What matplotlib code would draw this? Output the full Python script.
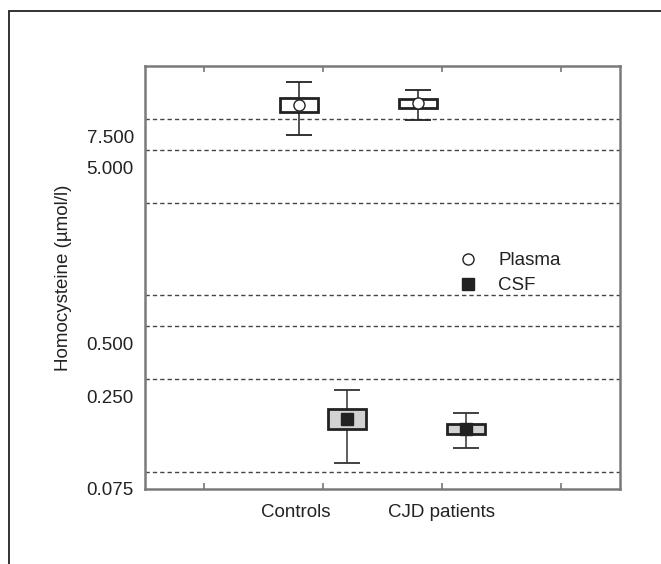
import matplotlib
matplotlib.use("Agg")
import matplotlib.pyplot as plt
import matplotlib.transforms as mtransforms
from matplotlib.patches import Rectangle

plt.rcParams['font.family'] = ['Liberation Sans', 'DejaVu Sans']

# ---- data ----
categories = ['Controls', 'CJD patients']
category_label_x = [1.27, 2.5]
group_x = [1.5, 2.5]

plasma_mean = [11.4, 11.7]
plasma_box_lo = [10.4, 11.0]
plasma_box_hi = [12.5, 12.3]
plasma_whisk_lo = [7.67, 9.4]
plasma_whisk_hi = [15.3, 13.9]

csf_mean = [0.187, 0.164]
csf_box_lo = [0.164, 0.154]
csf_box_hi = [0.213, 0.176]
csf_whisk_lo = [0.105, 0.129]
csf_whisk_hi = [0.273, 0.202]

grid_levels = [9.49, 6.35, 3.16, 0.95, 0.63, 0.315, 0.094]
ytick_values = [0.075, 0.25, 0.5, 5.0, 7.5]
ytick_labels = ['0.075', '0.250', '0.500', '5.000', '7.500']
xtick_values = [0.5, 1.5, 2.5, 3.5]

FS = 13.5
fig = plt.figure(figsize=(6.61, 5.64), dpi=100)
ax = fig.add_axes([145/661, 1 - 489/564, 475/661, 423.3/564])
ax.set_yscale('log')
ax.set_ylim(0.075, 19.0)
ax.set_xlim(0, 4)

for lv in grid_levels:
    ax.axhline(lv, color='#444444', lw=1.0, dashes=(3.1, 2.2), zorder=1)

offset = 0.2
bw = 0.32


def draw(xs, mean, blo, bhi, wlo, whi, face, marker, mface, label, wcol):
    for i, x in enumerate(xs):
        ax.errorbar([x], [mean[i]], yerr=[[mean[i] - wlo[i]], [whi[i] - mean[i]]],
                    fmt='none', ecolor=wcol, elinewidth=1.1, capsize=9.4,
                    capthick=1.3, zorder=2)
        ax.bar([x], [bhi[i] - blo[i]], bottom=[blo[i]], width=bw, color=face,
               edgecolor='#222222', linewidth=2.0, zorder=3)
    ax.plot(xs, mean, linestyle='none', marker=marker, markersize=8,
            markerfacecolor=mface, markeredgecolor='#222222', markeredgewidth=1.0,
            zorder=4, label=label)


draw([g - offset for g in group_x], plasma_mean, plasma_box_lo, plasma_box_hi,
     plasma_whisk_lo, plasma_whisk_hi, 'white', 'o', 'white', 'Plasma', '#222222')
draw([g + offset for g in group_x], csf_mean, csf_box_lo, csf_box_hi,
     csf_whisk_lo, csf_whisk_hi, '#d2d2d2', 's', '#222222', 'CSF', '#333333')

ax.set_yticks(ytick_values)
ax.set_yticklabels(ytick_labels)
ax.yaxis.set_minor_locator(matplotlib.ticker.NullLocator())
ax.tick_params(axis='y', length=0, pad=8, labelsize=FS, colors='#222222')
ax.set_xticks(xtick_values)
ax.set_xticklabels([])
ax.tick_params(axis='x', direction='in', length=4, width=1.2, color='#777777',
               top=True, bottom=True)

for s in ax.spines.values():
    s.set_color('#7a7a7a')
    s.set_linewidth(1.8)

ax.set_ylabel('Homocysteine (\u00b5mol/l)', fontsize=FS, color='#222222')
ax.yaxis.set_label_coords(-0.153, 0.5)

trans = mtransforms.blended_transform_factory(ax.transData, ax.transAxes)
for lab, x in zip(categories, category_label_x):
    ax.text(x, -0.0558, lab, transform=trans, ha='center', va='center',
            fontsize=FS, color='#222222')

leg = ax.legend(loc='upper left', bbox_to_anchor=(0.625, 0.599), frameon=False,
                fontsize=FS, handlelength=1.0, handletextpad=1.1, numpoints=1,
                labelspacing=0.4)
for t in leg.get_texts():
    t.set_color('#222222')

fig.add_artist(Rectangle((9/661, -0.1), 1.2, 1.1 - 11/564, transform=fig.transFigure,
                         fill=False, lw=1.3, ec='#222222'))

fig.savefig('out.png', dpi=100)
